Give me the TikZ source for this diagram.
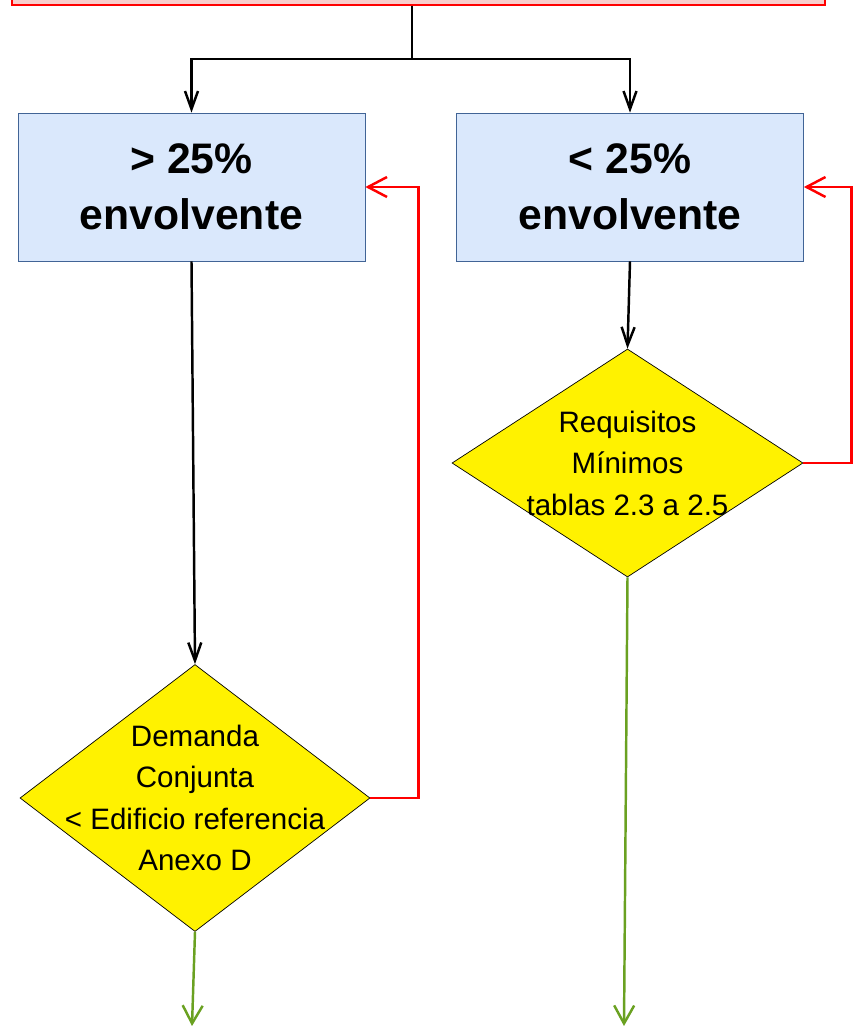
\documentclass[tikz,border=0pt]{standalone}
\usepackage{fontspec}
\setmainfont{Liberation Sans}
\usetikzlibrary{shapes.geometric,arrows.meta}
\definecolor{boxblue}{RGB}{218,232,252}
\definecolor{boxedge}{RGB}{65,100,150}
\definecolor{toppink}{RGB}{248,206,204}
\definecolor{outgreen}{RGB}{106,161,33}
\begin{document}
\begin{tikzpicture}[
    limite/.style ={rectangle, draw=red, fill=toppink, thick, minimum width=16.26cm, minimum height=2cm},
    caso/.style ={rectangle, draw=boxedge, fill=boxblue, minimum width=6.94cm, minimum height=2.96cm,
                  align=center, font=\fontsize{24.3}{32}\selectfont\bfseries},
    decision/.style ={diamond, draw, fill=yellow, inner sep=0pt},
    decisiontext/.style ={align=center, font=\fontsize{16.8}{23.6}\selectfont},
    flecha/.style ={line width=1.4pt, -{Straight Barb[length=3.6mm,width=2.6mm]}},
    vuelta/.style ={red, line width=1.4pt, -{Straight Barb[length=3.8mm,width=4mm]}},
    salida/.style ={outgreen, line width=1.4pt, -{Straight Barb[length=3.6mm,width=4mm]}}]
   \useasboundingbox (0,0) rectangle (17.14,-20.52);
   \clip (0,0) rectangle (17.14,-20.52);
   \node[limite] (top) at (8.37,0.9) {};
   \coordinate (split) at (8.24,-1.18);
   \node[caso] (mas) at (3.83,-3.74) {> 25\%\\envolvente};
   \node[caso] (menos) at (12.6,-3.74) {< 25\%\\envolvente};
   \node[decision, minimum width=7cm, minimum height=5.34cm] (dem) at (3.9,-15.96) {};
   \node[decisiontext] (demtext) at (dem) {Demanda\\Conjunta\\< Edificio referencia\\Anexo D};
   \node[decision, minimum width=7.02cm, minimum height=4.56cm] (req) at (12.55,-9.26) {};
   \node[decisiontext] (reqtext) at (req) {Requisitos\\Mínimos\\tablas 2.3 a 2.5};
   \coordinate (finA) at (3.84,-20.52);
   \coordinate (finB) at (12.48,-20.52);
   \draw[line width=1.4pt] (split |- top.south) to (split);
   \draw[flecha] (split) -| (mas.north);
   \draw[flecha] (split) -| (menos.north);
   \draw[flecha] (mas.south) to (dem.north);
   \draw[flecha] (menos.south) to (req.north);
   \draw[vuelta] (dem.east) -- ++(0.96,0) |- (mas.east);
   \draw[vuelta] (req.east) -- ++(0.96,0) |- (menos.east);
   \draw[salida] (dem.south) to (finA);
   \draw[salida] (req.south) to (finB);
 \end{tikzpicture}
\end{document}
